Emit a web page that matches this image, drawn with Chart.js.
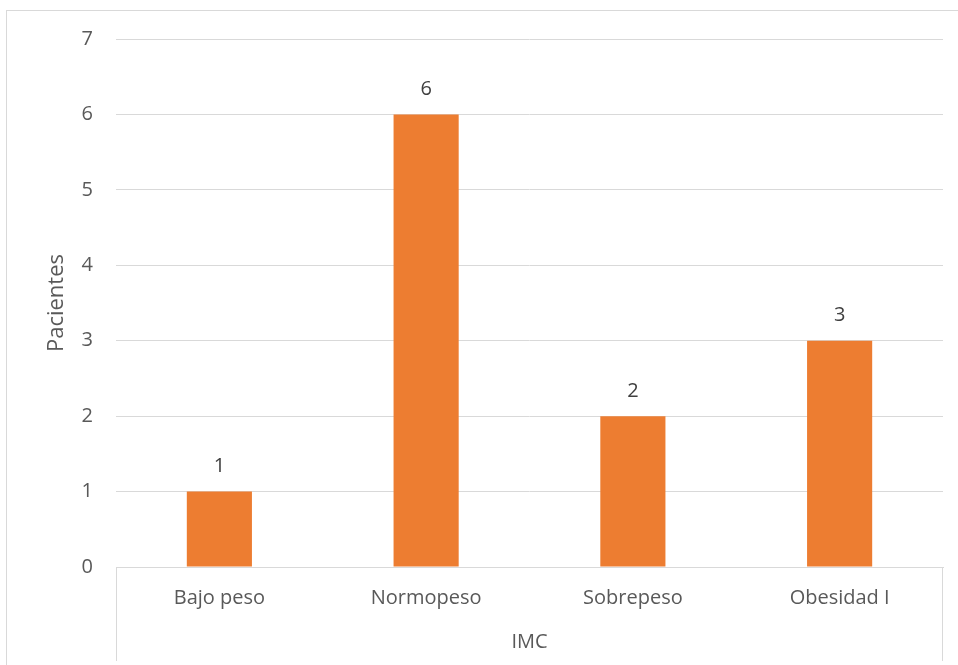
<!DOCTYPE html>
<html>
<head>
<meta charset="utf-8">
<script src="https://cdn.jsdelivr.net/npm/chart.js@4.4.0/dist/chart.umd.min.js"></script>
<style>
  html, body { margin: 0; padding: 0; background: #ffffff; }
  #wrap { width: 958px; height: 665px; position: relative; }
</style>
</head>
<body>
<div id="wrap"><canvas id="c" width="958" height="665"></canvas></div>
<script>
const categories = ["Bajo peso", "Normopeso", "Sobrepeso", "Obesidad I"];
const pacientes = [1, 6, 2, 3];
const yTicks = [0, 1, 2, 3, 4, 5, 6, 7];
const xAxisTitle = "IMC";
const yAxisTitle = "Pacientes";

const FONT = "'Open Sans', 'Liberation Sans', sans-serif";
const GRID = "#d9d9d9";
const TEXT = "#595959";

const framePlugin = {
  id: "frame",
  beforeDraw(chart) {
    const ctx = chart.ctx;
    ctx.save();
    ctx.strokeStyle = GRID;
    ctx.lineWidth = 1;
    ctx.strokeRect(6.5, 10.5, 1000, 1000);
    ctx.restore();
  },
  afterDatasetsDraw(chart) {
    const ctx = chart.ctx;
    const a = chart.chartArea;
    ctx.save();
    ctx.strokeStyle = GRID;
    ctx.lineWidth = 1;
    ctx.beginPath();
    ctx.moveTo(Math.round(a.left) + 0.5, a.bottom);
    ctx.lineTo(Math.round(a.left) + 0.5, 661);
    ctx.moveTo(Math.round(a.right) - 0.5, a.bottom);
    ctx.lineTo(Math.round(a.right) - 0.5, 661);
    ctx.stroke();
    // data labels
    const meta = chart.getDatasetMeta(0);
    ctx.fillStyle = "#404040";
    ctx.font = "20px " + FONT;
    ctx.textAlign = "center";
    ctx.textBaseline = "middle";
    meta.data.forEach((bar, i) => {
      ctx.fillText(String(chart.data.datasets[0].data[i]), bar.x, bar.y - 25);
    });
    ctx.restore();
  }
};

new Chart(document.getElementById("c"), {
  type: "bar",
  data: {
    labels: categories,
    datasets: [{
      label: yAxisTitle,
      data: pacientes,
      backgroundColor: "#ED7D31",
      borderWidth: 0,
      barPercentage: 0.63,
      categoryPercentage: 0.5
    }]
  },
  options: {
    responsive: false,
    animation: false,
    devicePixelRatio: 1,
    layout: { padding: { top: 39, right: 15, left: 0, bottom: 0 } },
    plugins: { legend: { display: false }, tooltip: { enabled: false } },
    scales: {
      x: {
        grid: { display: false, drawTicks: false },
        border: { display: true, color: GRID, width: 1 },
        ticks: { color: TEXT, font: { family: FONT, size: 20 }, padding: 19 },
        title: { display: true, text: xAxisTitle, color: TEXT, font: { family: FONT, size: 20 }, padding: { top: 0, bottom: 11 } },
        afterFit(scale) { scale.height = 98; }
      },
      y: {
        min: 0, max: 7,
        afterBuildTicks(scale) { scale.ticks = yTicks.map(v => ({ value: v })); },
        grid: { color: GRID, lineWidth: 1, drawTicks: false },
        border: { display: false },
        ticks: { color: TEXT, font: { family: FONT, size: 20 }, padding: 23, stepSize: 1 },
        title: { display: true, text: yAxisTitle, color: TEXT, font: { family: FONT, size: 22 }, padding: { top: 44, bottom: 0 } },
        afterFit(scale) { scale.width = 116; }
      }
    }
  },
  plugins: [framePlugin]
});
</script>
</body>
</html>
